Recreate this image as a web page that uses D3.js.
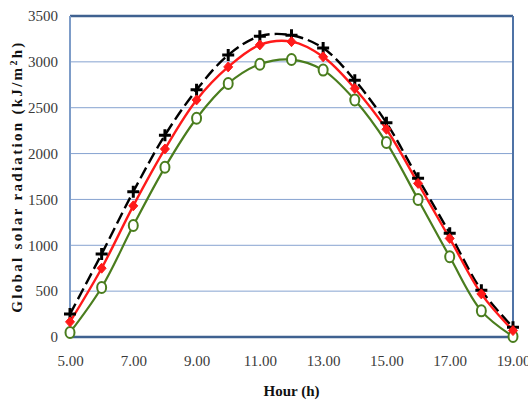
<!DOCTYPE html>
<html>
<head>
<meta charset="utf-8">
<script src="https://cdn.jsdelivr.net/npm/d3@7"></script>
<style>
  html, body { margin: 0; padding: 0; background: #fff; }
  svg { display: block; }
</style>
</head>
<body>
<svg id="chart" width="528" height="403"></svg>
<script>
// Hours of the day and global solar radiation (kJ/m²h) for three series
const hours = [5, 6, 7, 8, 9, 10, 11, 12, 13, 14, 15, 16, 17, 18, 19];
const seriesBlack = [250, 905, 1585, 2200, 2695, 3075, 3280, 3290, 3150, 2800, 2335, 1730, 1130, 510, 105];
const seriesRed   = [165, 750, 1430, 2050, 2585, 2945, 3185, 3220, 3055, 2710, 2265, 1675, 1075, 470, 70];
const seriesGreen = [50, 540, 1215, 1850, 2385, 2765, 2975, 3025, 2910, 2585, 2120, 1500, 875, 285, 5];
const xTicks = [5, 7, 9, 11, 13, 15, 17, 19];
const yTicks = [0, 500, 1000, 1500, 2000, 2500, 3000, 3500];

const svg = d3.select("#chart");
const m = { left: 70, top: 16, right: 513, bottom: 337 };

const x = d3.scaleLinear().domain([5, 19]).range([m.left, m.right]);
const y = d3.scaleLinear().domain([0, 3500]).range([m.bottom, m.top]);

const serif = "'Liberation Serif', 'Times New Roman', serif";

// horizontal gridlines
svg.append("g")
  .selectAll("line")
  .data(yTicks.filter(v => v > 0 && v < 3500))
  .join("line")
  .attr("x1", m.left).attr("x2", m.right)
  .attr("y1", d => y(d)).attr("y2", d => y(d))
  .attr("stroke", "#86a3d0")
  .attr("stroke-width", 1);

// plot frame
svg.append("line").attr("x1", m.left).attr("x2", m.right).attr("y1", m.top).attr("y2", m.top)
  .attr("stroke", "#3f6190").attr("stroke-width", 2.5);
svg.append("line").attr("x1", m.right).attr("x2", m.right).attr("y1", m.top).attr("y2", m.bottom)
  .attr("stroke", "#4f73a6").attr("stroke-width", 2);
svg.append("line").attr("x1", m.left).attr("x2", m.left).attr("y1", m.top).attr("y2", m.bottom)
  .attr("stroke", "#7d9cc8").attr("stroke-width", 2);
svg.append("line").attr("x1", m.left).attr("x2", m.right).attr("y1", m.bottom).attr("y2", m.bottom)
  .attr("stroke", "#3f6190").attr("stroke-width", 2.5);

// axes (labels only, lines come from the frame)
const yAxis = d3.axisLeft(y).tickValues(yTicks).tickSize(0).tickPadding(12).tickFormat(d3.format("d"));
const gy = svg.append("g").attr("transform", `translate(${m.left},0)`).call(yAxis);
gy.select(".domain").remove();
gy.selectAll("text").attr("font-family", serif).attr("font-size", 15).attr("fill", "#3a3a3a");

const xAxis = d3.axisBottom(x).tickValues(xTicks).tickSize(0).tickPadding(18).tickFormat(d3.format(".2f"));
const gx = svg.append("g").attr("transform", `translate(0,${m.bottom})`).call(xAxis);
gx.select(".domain").remove();
gx.selectAll("text").attr("font-family", serif).attr("font-size", 15).attr("fill", "#3a3a3a");

// axis titles
svg.append("text")
  .attr("x", (x(5) + x(19)) / 2).attr("y", 396)
  .attr("text-anchor", "middle")
  .attr("font-family", serif).attr("font-size", 15).attr("font-weight", "bold").attr("fill", "#111")
  .text("Hour (h)");

const yt = svg.append("text")
  .attr("transform", `translate(22,${(m.top + m.bottom) / 2}) rotate(-90)`)
  .attr("text-anchor", "middle")
  .attr("letter-spacing", 2.3)
  .attr("font-family", serif).attr("font-size", 15).attr("font-weight", "bold").attr("fill", "#111");
yt.append("tspan").text("Global solar radiation (kJ/m");
yt.append("tspan").attr("baseline-shift", "super").attr("font-size", 10).text("2");
yt.append("tspan").text("h)");

// series lines
const line = d3.line()
  .x((d, i) => x(hours[i]))
  .y(d => y(d))
  .curve(d3.curveCatmullRom.alpha(0.5));

const plot = svg.append("g");

plot.append("path").datum(seriesGreen).attr("d", line)
  .attr("fill", "none").attr("stroke", "#4a7d1e").attr("stroke-width", 2.2);
plot.append("path").datum(seriesBlack).attr("d", line)
  .attr("fill", "none").attr("stroke", "#000").attr("stroke-width", 2.4)
  .attr("stroke-dasharray", "12,5");
plot.append("path").datum(seriesRed).attr("d", line)
  .attr("fill", "none").attr("stroke", "#ff1a1a").attr("stroke-width", 2.4);

// markers: green hollow circles
plot.append("g").selectAll("ellipse").data(seriesGreen).join("ellipse")
  .attr("cx", (d, i) => x(hours[i])).attr("cy", d => y(d))
  .attr("rx", 4.5).attr("ry", 5.5)
  .attr("fill", "#fff").attr("stroke", "#4a7d1e").attr("stroke-width", 2);

// markers: black plus signs
plot.append("g").selectAll("path").data(seriesBlack).join("path")
  .attr("transform", (d, i) => `translate(${x(hours[i])},${y(d)})`)
  .attr("d", "M-6,0H6M0,-6V6")
  .attr("stroke", "#000").attr("stroke-width", 3);

// markers: red diamonds
plot.append("g").selectAll("path").data(seriesRed).join("path")
  .attr("transform", (d, i) => `translate(${x(hours[i])},${y(d)})`)
  .attr("d", "M0,-5L4.5,0L0,5L-4.5,0Z")
  .attr("fill", "#ff1a1a").attr("stroke", "#ff1a1a").attr("stroke-width", 1);
</script>
</body>
</html>
